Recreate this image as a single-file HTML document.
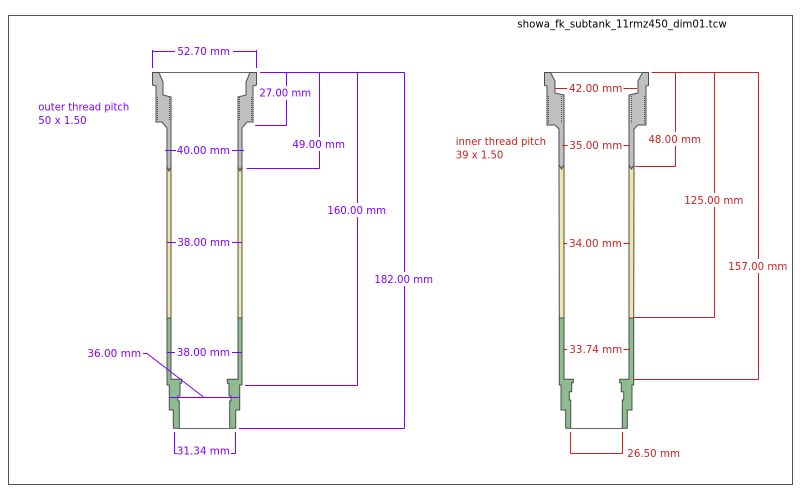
<!DOCTYPE html>
<html>
<head>
<meta charset="utf-8">
<style>
  html,body{margin:0;padding:0;background:#fff;}
  svg{display:block;}
  text{font-family:"DejaVu Sans","Liberation Sans",sans-serif;font-size:10.5px;}
</style>
</head>
<body>
<svg width="800" height="500" viewBox="0 0 800 500" xmlns="http://www.w3.org/2000/svg">
  <rect x="0" y="0" width="800" height="500" fill="#fff"/>
  <rect x="8.5" y="15.5" width="784" height="469" fill="none" stroke="#555" stroke-width="1"/>
  <text x="517.3" y="27.5" textLength="209.4" lengthAdjust="spacingAndGlyphs" fill="#000">showa_fk_subtank_11rmz450_dim01.tcw</text>

  <!-- ===== LEFT TUBE ===== -->
  <g stroke="#4d4d4d" stroke-width="1" stroke-linejoin="miter">
    <!-- top line -->
    <path d="M159,72.5 H250" fill="none" stroke="#666"/>
    <!-- left wall -->
    <path d="M152.5,72.5 L159,72.5 L163,82 L163,95 L171,97 L171,167 L169,171 L167,167 L167,128 L162,122 L156,122 L156,86 L152.5,85 Z" fill="#c0c0c0"/>
    <path d="M167,167 L169,171 L171,167 L171,318 L167,318 Z" fill="#eee8aa"/>
    <path d="M167,318 L171,318 L171,379.3 L181.7,379.3 L181.7,383.3 L180,383.3 L180,396 L178,396 L178,401 L179.3,401 L179.3,428.3 L173.3,428.3 L173.3,410 L169.3,410 L169.3,385 L167,385 Z" fill="#8fbc8f"/>
    <!-- right wall -->
    <path d="M256.5,72.5 L250,72.5 L246,82 L246,95 L238,97 L238,167 L240,171 L242,167 L242,128 L247,122 L253,122 L253,86 L256.5,85 Z" fill="#c0c0c0"/>
    <path d="M242,167 L240,171 L238,167 L238,318 L242,318 Z" fill="#eee8aa"/>
    <path d="M242,318 L238,318 L238,379.3 L227.3,379.3 L227.3,383.3 L229,383.3 L229,396 L231,396 L231,401 L229.7,401 L229.7,428.3 L235.7,428.3 L235.7,410 L239.7,410 L239.7,385 L242,385 Z" fill="#8fbc8f"/>
    <!-- bottom line -->
    <path d="M179.3,428.5 H229.7" fill="none" stroke="#666"/>
  </g>
  <!-- thread serrations left tube -->
  <g stroke="#555" stroke-width="1" stroke-dasharray="1 1" fill="none">
    <path d="M157.5,97 V121"/>
    <path d="M169.5,97 V121"/>
    <path d="M239.5,97 V121"/>
    <path d="M251.5,97 V121"/>
  </g>

  <!-- ===== RIGHT TUBE ===== -->
  <g stroke="#4d4d4d" stroke-width="1" stroke-linejoin="miter">
    <path d="M550.5,72.5 H642.5" fill="none" stroke="#666"/>
    <path d="M544.5,72.5 L550.5,72.5 L555,81 L555,93 L564,95 L564,165 L561.5,169 L559,165 L559,129 L555,125 L547,125 L547,86 L544.5,85.5 Z" fill="#c0c0c0"/>
    <path d="M559,165 L561.5,169 L564,165 L564,318 L559.3,318 Z" fill="#eee8aa"/>
    <path d="M559.3,318 L564,318 L564,379.3 L573.3,379.3 L573.3,382.7 L571.7,382.7 L571.7,391.7 L569.3,391.7 L569.3,400 L570.7,400 L570.7,428.3 L565.7,428.3 L565.7,410 L561,410 L561,385 L559.3,385 Z" fill="#8fbc8f"/>
    <path d="M648.5,72.5 L642.5,72.5 L638,81 L638,93 L629,95 L629,165 L631.5,169 L634,165 L634,129 L638,125 L646,125 L646,86 L648.5,85.5 Z" fill="#c0c0c0"/>
    <path d="M634,165 L631.5,169 L629,165 L629,318 L633.7,318 Z" fill="#eee8aa"/>
    <path d="M633.7,318 L629,318 L629,379.3 L619.7,379.3 L619.7,382.7 L621.3,382.7 L621.3,391.7 L623.7,391.7 L623.7,400 L622.3,400 L622.3,428.3 L627.3,428.3 L627.3,410 L632,410 L632,385 L633.7,385 Z" fill="#8fbc8f"/>
    <path d="M570.7,428.5 H622.3" fill="none" stroke="#666"/>
  </g>
  <g stroke="#555" stroke-width="1" stroke-dasharray="1 1" fill="none">
    <path d="M548.5,96 V124"/>
    <path d="M561.5,96 V124"/>
    <path d="M631.5,96 V124"/>
    <path d="M644.5,96 V124"/>
  </g>

  <!-- ===== PURPLE DIMENSIONS ===== -->
  <g stroke="#8000ff" stroke-width="1" fill="none">
    <path d="M152.5,50 V68 M256.5,50 V68 M152.5,51.5 H175 M233,51.5 H256.5"/>
    <path d="M260,72.5 H404.5"/>
    <path d="M286.5,72.5 V86 M286.5,100 V125.5 M255,125.5 H286.5"/>
    <path d="M319.5,72.5 V137 M319.5,151 V168.5 M246.5,168.5 H319.5"/>
    <path d="M357.5,72.5 V203 M357.5,217 V385.5 M245,385.5 H357.5"/>
    <path d="M404.5,72.5 V272 M404.5,286 V428.5 M239,428.5 H404.5"/>
    <path d="M165,150.5 H176 M232,150.5 H244"/>
    <path d="M167,242.5 H176 M232,242.5 H241.5"/>
    <path d="M167,352.5 H175 M232,352.5 H241.5"/>
    <path d="M143,353.5 L147,353.5 L203.5,397"/>
    <path d="M169,397.5 H239.5"/>
    <path d="M174.5,432 V453.5 M235.5,432 V453.5 M174.5,453.5 H177 M231,453.5 H235.5"/>
  </g>
  <g fill="#8000ff" text-anchor="middle">
    <text x="203.7" y="55" textLength="52.7" lengthAdjust="spacingAndGlyphs">52.70 mm</text>
    <text x="285.2" y="96.5" textLength="51.7" lengthAdjust="spacingAndGlyphs">27.00 mm</text>
    <text x="318.7" y="147.8" textLength="52.7" lengthAdjust="spacingAndGlyphs">49.00 mm</text>
    <text x="356.7" y="213.8" textLength="58.7" lengthAdjust="spacingAndGlyphs">160.00 mm</text>
    <text x="403.7" y="283" textLength="58.7" lengthAdjust="spacingAndGlyphs">182.00 mm</text>
    <text x="203.4" y="153.8" textLength="53.3" lengthAdjust="spacingAndGlyphs">40.00 mm</text>
    <text x="203.7" y="246" textLength="52.7" lengthAdjust="spacingAndGlyphs">38.00 mm</text>
    <text x="203.4" y="355.8" textLength="53.3" lengthAdjust="spacingAndGlyphs">38.00 mm</text>
    <text x="114.2" y="357" textLength="53.7" lengthAdjust="spacingAndGlyphs">36.00 mm</text>
    <text x="203.4" y="454.5" textLength="53.3" lengthAdjust="spacingAndGlyphs">31.34 mm</text>
  </g>
  <g fill="#8000ff">
    <text x="38.3" y="110.7" textLength="91" lengthAdjust="spacingAndGlyphs">outer thread pitch</text>
    <text x="38.3" y="124" textLength="48.4" lengthAdjust="spacingAndGlyphs">50 x 1.50</text>
  </g>

  <!-- ===== RED DIMENSIONS ===== -->
  <g stroke="#cc2222" stroke-width="1" fill="none">
    <path d="M651.5,72.5 H758.5"/>
    <path d="M675.5,72.5 V132 M675.5,146 V166.5 M635,166.5 H675.5"/>
    <path d="M714.5,72.5 V193 M714.5,207 V317.5 M633.5,317.5 H714.5"/>
    <path d="M758.5,72.5 V259 M758.5,273 V379.5 M633.5,379.5 H758.5"/>
    <path d="M555,88.5 H567 M623.5,88.5 H637"/>
    <path d="M562,145.5 H567.5 M623.5,145.5 H630"/>
    <path d="M563,243.5 H567 M623.5,243.5 H630"/>
    <path d="M563,349.5 H567 M623.5,349.5 H630"/>
    <path d="M570.5,432 V453.5 M622.5,432 V453.5 M570.5,453.5 H622.5"/>
  </g>
  <g fill="#cc2222" text-anchor="middle">
    <text x="674.7" y="143.1" textLength="52.7" lengthAdjust="spacingAndGlyphs">48.00 mm</text>
    <text x="713.8" y="203.8" textLength="59" lengthAdjust="spacingAndGlyphs">125.00 mm</text>
    <text x="757.8" y="269.8" textLength="59" lengthAdjust="spacingAndGlyphs">157.00 mm</text>
    <text x="595.7" y="92.1" textLength="53.3" lengthAdjust="spacingAndGlyphs">42.00 mm</text>
    <text x="595.8" y="148.8" textLength="53" lengthAdjust="spacingAndGlyphs">35.00 mm</text>
    <text x="595.5" y="246.8" textLength="53" lengthAdjust="spacingAndGlyphs">34.00 mm</text>
    <text x="595.8" y="352.8" textLength="53" lengthAdjust="spacingAndGlyphs">33.74 mm</text>
  </g>
  <g fill="#cc2222">
    <text x="627.3" y="457" textLength="52.7" lengthAdjust="spacingAndGlyphs">26.50 mm</text>
    <text x="455.7" y="145" textLength="90.3" lengthAdjust="spacingAndGlyphs">inner thread pitch</text>
    <text x="455.7" y="158.3" textLength="47.6" lengthAdjust="spacingAndGlyphs">39 x 1.50</text>
  </g>
</svg>
</body>
</html>
